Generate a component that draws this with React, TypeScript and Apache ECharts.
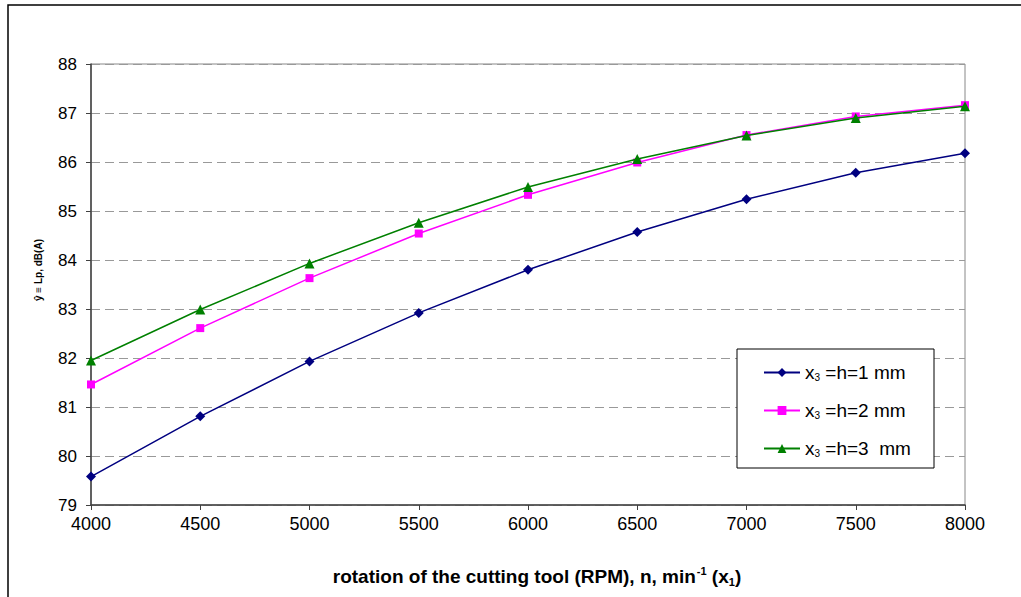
import React, { useEffect, useRef } from "react";
import * as echarts from "echarts";

const rpm = [4000, 4500, 5000, 5500, 6000, 6500, 7000, 7500, 8000];
const h1 = [79.58, 80.81, 81.93, 82.92, 83.8, 84.57, 85.24, 85.78, 86.18];
const h2 = [81.46, 82.61, 83.63, 84.54, 85.33, 85.99, 86.55, 86.93, 87.16];
const h3 = [81.95, 82.99, 83.93, 84.76, 85.49, 86.06, 86.54, 86.9, 87.14];
const seriesNames = ["h=1 mm", "h=2 mm", "h=3  mm"];
const seriesColors = ["#000080", "#FF00FF", "#008000"];
const seriesSymbols = ["diamond", "rect", "triangle"];
const seriesSizes = [10, 8, 10];
const yTitle = "ŷ ≡ Lp, dB(A)";

const FONT = "'Liberation Sans', Arial, sans-serif";

export default function App() {
  const ref = useRef<HTMLDivElement>(null);
  useEffect(() => {
    if (!ref.current) return;
    const chart = echarts.init(ref.current, null, { renderer: "svg" });
    const all = [h1, h2, h3];
    chart.setOption({
      animation: false,
      backgroundColor: "#fff",
      textStyle: { fontFamily: FONT },
      grid: {
        left: 91,
        top: 64,
        width: 874,
        height: 441,
        show: true,
        borderColor: "#888",
        borderWidth: 1,
        backgroundColor: "transparent",
      },
      xAxis: {
        type: "value",
        min: 4000,
        max: 8000,
        interval: 500,
        axisLine: { show: true, lineStyle: { color: "#404040", width: 1.5 } },
        axisTick: { show: true, length: 5, lineStyle: { color: "#404040" } },
        axisLabel: {
          fontSize: 18,
          color: "#000",
          margin: 10,
          fontFamily: FONT,
          formatter: (v: number) => String(v),
        },
        splitLine: { show: false },
      },
      yAxis: {
        type: "value",
        min: 79,
        max: 88,
        interval: 1,
        axisLine: { show: true, lineStyle: { color: "#404040", width: 1.5 } },
        axisTick: { show: true, length: 5, lineStyle: { color: "#404040" } },
        axisLabel: { fontSize: 17, color: "#000", margin: 14, fontFamily: FONT },
        splitLine: {
          show: true,
          lineStyle: { color: "#999", type: [9, 5], width: 1 },
        },
      },
      legend: {
        orient: "vertical",
        left: 763,
        top: 363,
        padding: 0,
        itemWidth: 36,
        itemHeight: 11,
        itemGap: 19,
        selectedMode: false,
        z: 10,
        data: seriesNames,
        formatter: (name: string) => `{m|x}{s|3}{m| =${name}}`,
        textStyle: {
          fontSize: 19,
          color: "#000",
          fontFamily: FONT,
          rich: {
            m: { fontSize: 19, color: "#000", fontFamily: FONT },
            s: { fontSize: 10, color: "#000", verticalAlign: "bottom", fontFamily: FONT },
          },
        },
      },
      graphic: [
        {
          type: "rect",
          shape: { x: 8, y: 5, width: 1100, height: 700 },
          style: { fill: "none", stroke: "#000", lineWidth: 1.5 },
          silent: true,
          z: -10,
        },
        {
          type: "rect",
          shape: { x: 737, y: 349, width: 197, height: 119 },
          style: { fill: "#fff", stroke: "#000", lineWidth: 1 },
          silent: true,
          z: 1,
        },
        {
          type: "text",
          x: 38,
          y: 270,
          rotation: Math.PI / 2,
          style: {
            text: yTitle,
            fontSize: 10,
            fontWeight: "bold",
            fill: "#000",
            align: "center",
            verticalAlign: "middle",
            fontFamily: FONT,
          },
        },
        {
          type: "text",
          x: 537,
          y: 576,
          style: {
            text: "{b|rotation of the cutting tool (RPM), n, min}{p|-1}{b| (x}{q|1}{b|)}",
            align: "center",
            verticalAlign: "middle",
            fontFamily: FONT,
            rich: {
              b: { fontSize: 19, fontWeight: "bold", fill: "#000", fontFamily: FONT, lineHeight: 22 },
              p: { fontSize: 11, fontWeight: "bold", fill: "#000", fontFamily: FONT, verticalAlign: "top", padding: [0, 0, 0, 1] },
              q: { fontSize: 11, fontWeight: "bold", fill: "#000", fontFamily: FONT, verticalAlign: "bottom" },
            },
          },
        },
      ],
      series: seriesNames.map((name, i) => ({
        name,
        type: "line",
        data: rpm.map((x, j) => [x, all[i][j]]),
        symbol: seriesSymbols[i],
        symbolSize: seriesSizes[i],
        showSymbol: true,
        lineStyle: { color: seriesColors[i], width: 1.5 },
        itemStyle: { color: seriesColors[i] },
        z: 3 + i,
      })),
    });
    return () => chart.dispose();
  }, []);
  return (
    <div
      ref={ref}
      style={{ position: "absolute", left: 0, top: 0, width: 1021, height: 597 }}
    />
  );
}
